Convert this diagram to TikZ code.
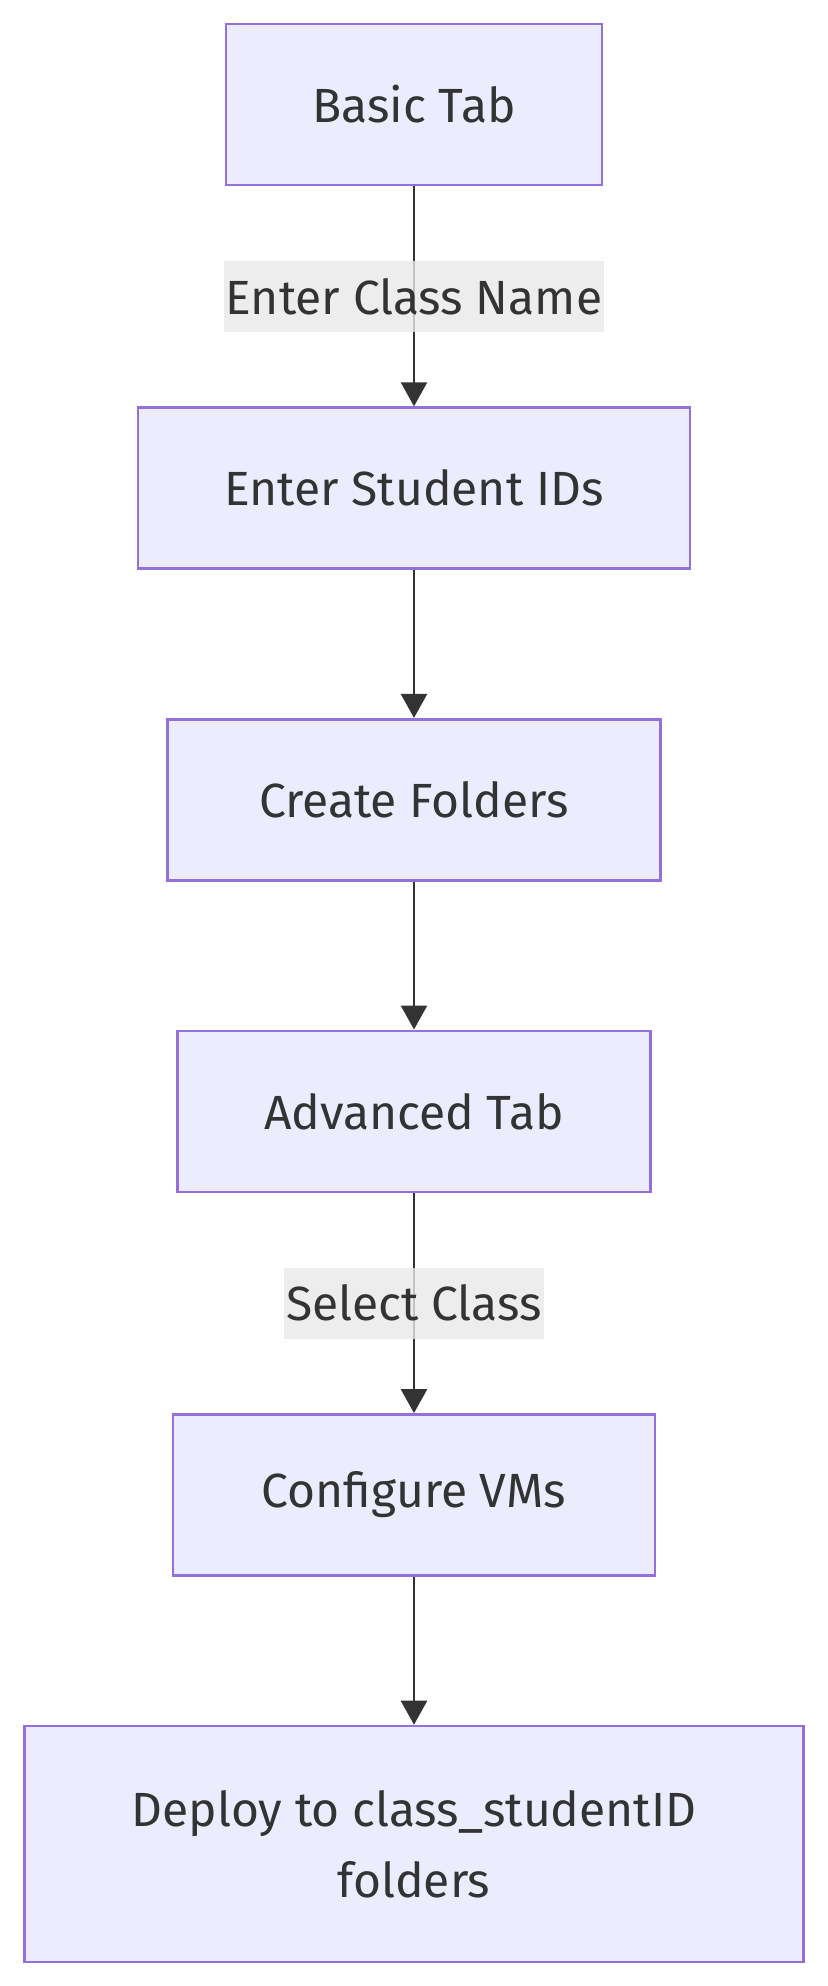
\documentclass[tikz,border=0pt]{standalone}
\usepackage{fontspec}
\setmainfont{Fira Sans}
\usetikzlibrary{arrows.meta, positioning}
\definecolor{nodefill}{HTML}{ECECFF}
\definecolor{nodeline}{HTML}{9370DB}
\definecolor{inkgray}{HTML}{333333}
\definecolor{labelfill}{HTML}{E8E8E8}
\tikzstyle{block} = [rectangle, draw=nodeline, fill=nodefill, line width=1.3pt,
    text=inkgray, minimum height=80.5pt, inner xsep=0pt, align=center,
    font=\fontsize{24}{35.5}\selectfont]
\tikzstyle{edgelabel} = [fill=labelfill, fill opacity=0.8, text opacity=1,
    text=inkgray, inner xsep=1pt, inner ysep=0pt, minimum height=35.5pt,
    font=\fontsize{24}{35.5}\selectfont]
\tikzstyle{arrow} = [line width=1.3pt, draw=inkgray,
    -{Triangle[width=13pt, length=12pt]}]

\begin{document}
\begin{tikzpicture}[node distance=74pt]
    % Define blocks
    \node [block, minimum width=188pt] (basic) {Basic Tab};
    \node [block, minimum width=276pt, below=110pt of basic] (ids) {Enter Student IDs};
    \node [block, minimum width=246.5pt, below=of ids] (folders) {Create Folders};
    \node [block, minimum width=236.5pt, below=of folders] (advanced) {Advanced Tab};
    \node [block, minimum width=241pt, below=110pt of advanced] (vms) {Configure VMs};
    \node [block, minimum width=389.5pt, minimum height=118pt, below=of vms] (deploy)
        {Deploy to class\_studentID\\folders};

    % Arrows for the flow
    \draw [arrow] (basic) -- node [edgelabel] {Enter Class Name} (ids);
    \draw [arrow] (ids) -- (folders);
    \draw [arrow] (folders) -- (advanced);
    \draw [arrow] (advanced) -- node [edgelabel] {Select Class} (vms);
    \draw [arrow] (vms) -- (deploy);

    \useasboundingbox (-207pt, 52.25pt) rectangle (207pt, -940.75pt);
\end{tikzpicture}
\end{document}
